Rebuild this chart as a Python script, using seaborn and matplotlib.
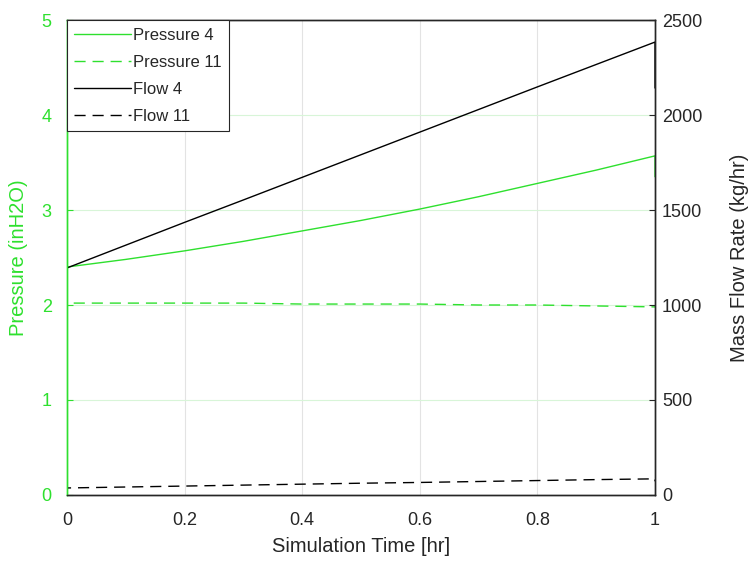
import pandas as pd
import numpy as np
import matplotlib.pyplot as plt
import seaborn as sns
from matplotlib.lines import Line2D

# values
time = [0, 0, 0.1, 0.2, 0.3, 0.4, 0.5, 0.6, 0.7, 0.8, 0.9, 1.0, 1.0]
pressure4 = [0, 2.40, 2.48, 2.57, 2.67, 2.78, 2.89, 3.01, 3.14, 3.28, 3.42, 3.57, 3.35]
pressure11 = [0, 2.02, 2.02, 2.02, 2.02, 2.01, 2.01, 2.01, 2.00, 2.00, 1.99, 1.98, 1.98]
flow4 = [0, 1195, 1315, 1435, 1553, 1672, 1791, 1910, 2029, 2148, 2266, 2384, 2142]
flow11 = [0, 37, 42, 47, 52, 57, 62, 66, 71, 76, 81, 85, 72]

xticks = [0, 0.2, 0.4, 0.6, 0.8, 1]
pticks = [0, 1, 2, 3, 4, 5]
fticks = [0, 500, 1000, 1500, 2000, 2500]

df = pd.DataFrame({"Time": time, "Pressure 4": pressure4, "Pressure 11": pressure11,
                   "Flow 4": flow4, "Flow 11": flow11})

sns.set_style("white")
plt.rcParams['font.family'] = ['Liberation Sans', 'DejaVu Sans']
plt.rcParams['xtick.direction'] = 'in'
plt.rcParams['ytick.direction'] = 'in'

green = "#2ee02e"
dash = (0, (8, 5))

fig = plt.figure(figsize=(7.51, 5.67), dpi=100)
ax = fig.add_axes([0.0892, 0.127, 0.783, 0.8377])
ax2 = ax.twinx()

sns.lineplot(data=df, x="Time", y="Pressure 4", ax=ax, color=green, lw=1,
             estimator=None, sort=False)
sns.lineplot(data=df, x="Time", y="Pressure 11", ax=ax, color=green, lw=1,
             estimator=None, sort=False, linestyle=dash)
sns.lineplot(data=df, x="Time", y="Flow 4", ax=ax2, color="black", lw=1,
             estimator=None, sort=False)
sns.lineplot(data=df, x="Time", y="Flow 11", ax=ax2, color="black", lw=1,
             estimator=None, sort=False, linestyle=dash)

ax.set_xlim(0, 1)
ax.set_ylim(0, 5)
ax2.set_ylim(0, 2500)
ax.set_xticks(xticks)
ax.set_xticklabels(["0", "0.2", "0.4", "0.6", "0.8", "1"])
ax.set_yticks(pticks)
ax2.set_yticks(fticks)

# grid: vertical gray, horizontal faint green like matlab
for xt in xticks[1:-1]:
    ax.axvline(xt, color="#e3e3e3", lw=0.8, zorder=0)
for yt in pticks[1:-1]:
    ax.axhline(yt, color="#d8f5d8", lw=0.8, zorder=0)

ax.set_xlabel("Simulation Time [hr]", fontsize=14.5, color="#262626", labelpad=6)
ax.set_ylabel("Pressure (inH2O)", fontsize=14.5, color=green, labelpad=10)
ax2.set_ylabel("Mass Flow Rate (kg/hr)", fontsize=14.5, color="#262626", labelpad=20)

ax.tick_params(axis='x', labelsize=13, colors="#262626", length=4, pad=12)
ax.tick_params(axis='y', labelsize=13, colors=green, length=4, pad=11)
ax2.tick_params(axis='y', labelsize=13, colors="#262626", length=4, pad=5)

for a in (ax, ax2):
    for s in a.spines.values():
        s.set_color("#262626")
        s.set_linewidth(1)
ax2.spines['left'].set_color(green)
ax.spines['left'].set_color(green)

handles = [Line2D([], [], color=green, lw=1),
           Line2D([], [], color=green, lw=1, linestyle=dash),
           Line2D([], [], color="black", lw=1),
           Line2D([], [], color="black", lw=1, linestyle=dash)]
labels = ["Pressure 4", "Pressure 11", "Flow 4", "Flow 11"]
leg = ax2.legend(handles, labels, loc="upper left", fontsize=12, handlelength=3.4,
                 handletextpad=0.1, borderaxespad=0, fancybox=False, framealpha=1,
                 borderpad=0.45, labelspacing=0.72)
leg.get_frame().set_edgecolor("#262626")
leg.get_frame().set_linewidth(0.8)

fig.savefig("out.png", dpi=100)
